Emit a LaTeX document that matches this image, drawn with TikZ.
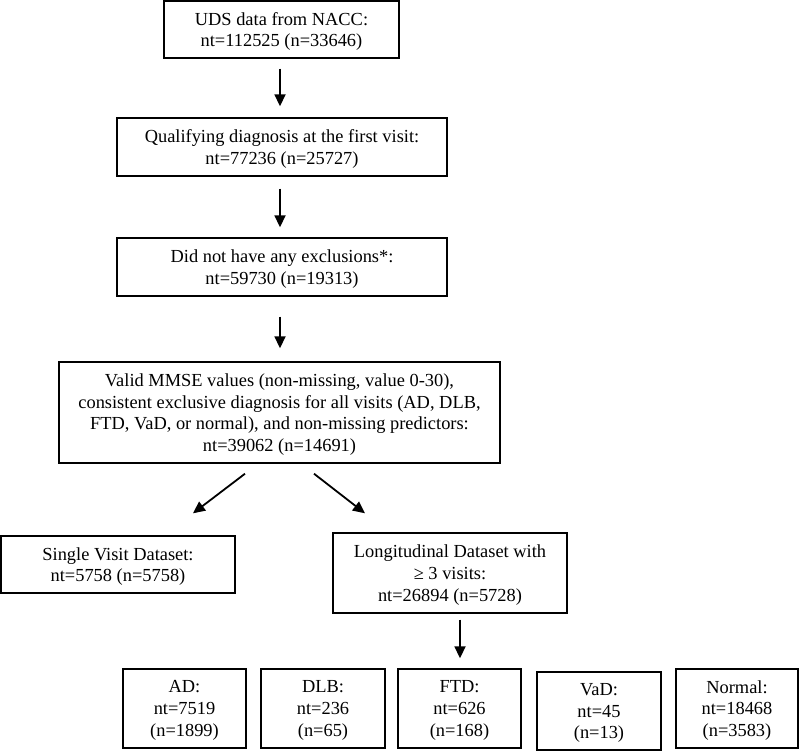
\documentclass[tikz,border=0pt]{standalone}
\usepackage{fontspec}
\setmainfont{Liberation Serif}
\usetikzlibrary{arrows.meta}
\begin{document}
\begin{tikzpicture}[x=1pt,y=-1pt,
  box/.style={draw=black, line width=1.4pt, inner sep=0pt, align=center, text depth=0pt,
    font=\fontsize{18.4pt}{21.7pt}\selectfont},
  arr/.style={line width=1.8pt, -{Triangle[length=12pt,width=11pt]}}]
\useasboundingbox (0,0) rectangle (800,752);
\node[box, minimum width=235pt, minimum height=57pt] (b1) at (281.5,29.5) {UDS data from NACC:\\nt=112525 (n=33646)};
\node[box, minimum width=330pt, minimum height=58pt] (b2) at (282,147) {Qualifying diagnosis at the first visit:\\nt=77236 (n=25727)};
\node[box, minimum width=330pt, minimum height=58pt] (b3) at (282,267) {Did not have any exclusions*:\\nt=59730 (n=19313)};
\node[box, minimum width=441pt, minimum height=101pt] (b4) at (279.5,412.5) {Valid MMSE values (non-missing, value 0-30),\\consistent exclusive diagnosis for all visits (AD, DLB,\\FTD, VaD, or normal), and non-missing predictors:\\nt=39062 (n=14691)};
\node[box, minimum width=234pt, minimum height=57pt] (b5) at (118,564.5) {Single Visit Dataset:\\nt=5758 (n=5758)};
\node[box, minimum width=234pt, minimum height=80pt] (b6) at (450,573) {Longitudinal Dataset with\\≥ 3 visits:\\nt=26894 (n=5728)};
\node[box, minimum width=123pt, minimum height=79pt] (ad) at (184.5,708.5) {AD:\\nt=7519\\(n=1899)};
\node[box, minimum width=124pt, minimum height=79pt] (dlb) at (323,708.5) {DLB:\\nt=236\\(n=65)};
\node[box, minimum width=123pt, minimum height=79pt] (ftd) at (459.5,708.5) {FTD:\\nt=626\\(n=168)};
\node[box, minimum width=124pt, minimum height=78pt] (vad) at (599,711) {VaD:\\nt=45\\(n=13)};
\node[box, minimum width=122pt, minimum height=79pt] (nor) at (737,708.5) {Normal:\\nt=18468\\(n=3583)};
\draw[arr] ([xshift=-1.5pt,yshift=-10pt]b1.south) -- ([xshift=-2pt,yshift=11pt]b2.north);
\draw[arr] ([xshift=-2pt,yshift=-12pt]b2.south) -- ([xshift=-2pt,yshift=10pt]b3.north);
\draw[arr] ([xshift=-2pt,yshift=-20pt]b3.south) -- ([xshift=0.5pt,yshift=13pt]b4.north);
\draw[arr] ([xshift=-34.5pt,yshift=-10pt]b4.south) -- ([xshift=75pt,yshift=22pt]b5.north);
\draw[arr] ([xshift=34.5pt,yshift=-10pt]b4.south) -- ([xshift=-85pt,yshift=19pt]b6.north);
\draw[arr] ([xshift=10pt,yshift=-6pt]b6.south) -- ([xshift=0.5pt,yshift=10pt]ftd.north);
\end{tikzpicture}
\end{document}
